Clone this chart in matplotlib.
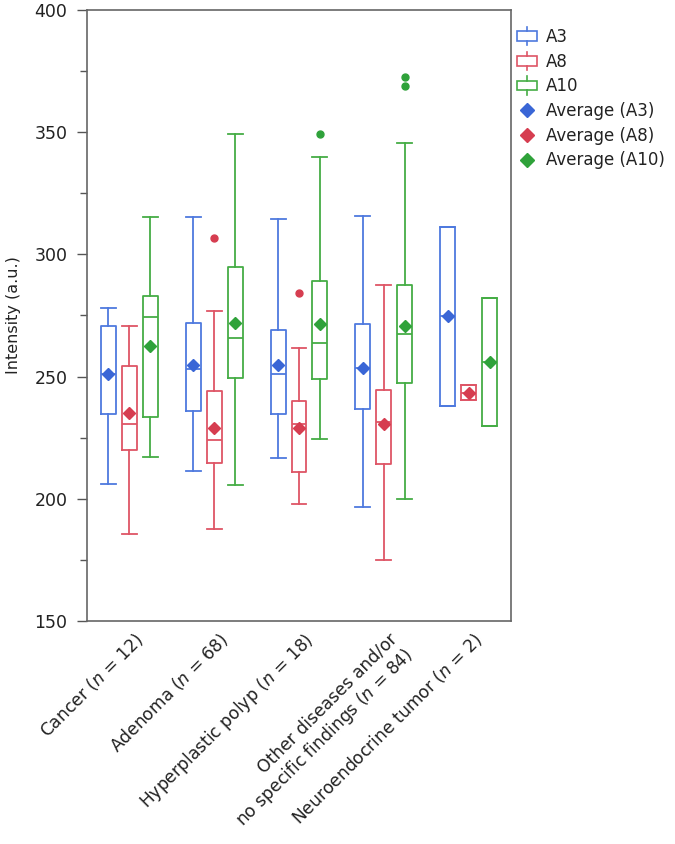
import matplotlib
matplotlib.use("Agg")
import matplotlib.pyplot as plt
import matplotlib.transforms as mtransforms
from matplotlib.legend_handler import HandlerBase
from matplotlib.lines import Line2D
from matplotlib.patches import Rectangle
from matplotlib.ticker import MultipleLocator

plt.rcParams['font.family'] = ['DejaVu Sans']
plt.rcParams['mathtext.fontset'] = 'dejavusans'

categories = ["Cancer ($\\mathit{n}$ = 12)",
              "Adenoma ($\\mathit{n}$ = 68)",
              "Hyperplastic polyp ($\\mathit{n}$ = 18)",
              "Other diseases and/or\nno specific findings ($\\mathit{n}$ = 84)",
              "Neuroendocrine tumor ($\\mathit{n}$ = 2)"]
series_names = ["A3", "A8", "A10"]

# per-series statistics, one value per category
A3_whislo = [206.2, 211.4, 216.5, 196.8, 238.0]
A3_q1     = [234.8, 235.9, 234.6, 236.9, 238.0]
A3_med    = [250.9, 253.2, 251.2, 253.6, 274.7]
A3_q3     = [270.9, 272.0, 269.2, 271.6, 311.4]
A3_whishi = [277.9, 315.4, 314.5, 315.6, 311.4]
A3_mean   = [251.0, 254.7, 254.6, 253.6, 274.7]
A3_fliers = [[], [], [], [], []]

A8_whislo = [185.8, 187.7, 197.8, 174.8, 240.3]
A8_q1     = [220.1, 214.8, 211.0, 214.1, 240.3]
A8_med    = [230.7, 223.9, 230.5, 231.4, 243.4]
A8_q3     = [254.4, 244.2, 240.0, 244.4, 246.4]
A8_whishi = [270.6, 276.8, 261.8, 287.5, 246.4]
A8_mean   = [235.2, 228.8, 229.1, 230.5, 243.4]
A8_fliers = [[], [306.9], [284.3], [], []]

A10_whislo = [217.1, 205.6, 224.3, 200.0, 229.8]
A10_q1     = [233.5, 249.4, 249.1, 247.3, 229.8]
A10_med    = [274.3, 265.9, 263.7, 267.5, 256.0]
A10_q3     = [282.8, 295.0, 289.2, 287.5, 282.1]
A10_whishi = [315.4, 349.2, 339.7, 345.4, 282.1]
A10_mean   = [262.7, 272.0, 271.6, 270.9, 256.0]
A10_fliers = [[], [], [349.2], [372.6, 368.7], []]

box_colors = ["#4E79DE", "#DE5566", "#45AD45"]
mean_colors = ["#3A66D6", "#D63D50", "#2FA23A"]

series = [
    (A3_whislo, A3_q1, A3_med, A3_q3, A3_whishi, A3_mean, A3_fliers),
    (A8_whislo, A8_q1, A8_med, A8_q3, A8_whishi, A8_mean, A8_fliers),
    (A10_whislo, A10_q1, A10_med, A10_q3, A10_whishi, A10_mean, A10_fliers),
]

fig = plt.figure(figsize=(6.75, 8.44), dpi=100)
ax = fig.add_axes([87/675, 1-621/844, (511-87)/675, (621-10)/844])

offsets = [-0.247, 0.0, 0.247]
width = 0.176
for s, (wlo, q1, med, q3, whi, mean, fl) in enumerate(series):
    stats = []
    for i in range(len(categories)):
        stats.append(dict(whislo=wlo[i], q1=q1[i], med=med[i], q3=q3[i],
                          whishi=whi[i], mean=mean[i], fliers=fl[i]))
    c = box_colors[s]
    pos = [i + offsets[s] for i in range(len(categories))]
    ax.bxp(stats, positions=pos, widths=width, capwidths=width,
           showmeans=True, manage_ticks=False,
           boxprops=dict(color=c, linewidth=1.3),
           whiskerprops=dict(color=c, linewidth=1.3),
           capprops=dict(color=c, linewidth=1.3),
           medianprops=dict(color=c, linewidth=1.3),
           meanprops=dict(marker='D', markerfacecolor=mean_colors[s],
                          markeredgecolor=mean_colors[s], markersize=6.5),
           flierprops=dict(marker='o', markerfacecolor=mean_colors[s],
                           markeredgecolor=mean_colors[s], markersize=5))

ax.set_xlim(-0.5, len(categories) - 0.5)
ax.set_ylim(150, 400)
ax.yaxis.set_major_locator(MultipleLocator(50))
ax.yaxis.set_minor_locator(MultipleLocator(25))
ax.tick_params(axis='y', which='major', length=7, width=1, color='#555555',
               labelsize=12.5, pad=7, labelcolor='#222222')
ax.tick_params(axis='y', which='minor', length=5, width=1, color='#555555')
ax.set_xticks(range(len(categories)))
ax.set_xticklabels(categories, rotation=45, ha='right', rotation_mode='anchor',
                   fontsize=12.3, color='#222222')
ax.tick_params(axis='x', length=0, pad=4)
shift = mtransforms.ScaledTranslation(0.04, -0.03, fig.dpi_scale_trans)
for lab in ax.get_xticklabels():
    lab.set_transform(lab.get_transform() + shift)
for sp in ax.spines.values():
    sp.set_color('#666666')
    sp.set_linewidth(1.2)
ax.set_ylabel("Intensity (a.u.)", fontsize=11.5, color='#222222', labelpad=10)


class BoxHandler(HandlerBase):
    def __init__(self, color):
        super().__init__()
        self.color = color

    def create_artists(self, legend, orig_handle, xdescent, ydescent, width,
                       height, fontsize, trans):
        cx = width / 2 - xdescent
        cy = height / 2 - ydescent
        w = 14
        h = 7
        r = Rectangle((cx - w / 2, cy - h / 2), w, h, facecolor='none',
                      edgecolor=self.color, linewidth=1.2, transform=trans)
        l1 = Line2D([cx, cx], [cy + h / 2, cy + h / 2 + 3], color=self.color,
                    linewidth=1.2, transform=trans)
        l2 = Line2D([cx, cx], [cy - h / 2, cy - h / 2 - 3], color=self.color,
                    linewidth=1.2, transform=trans)
        return [r, l1, l2]


box_handles = [Rectangle((0, 0), 1, 1) for _ in series_names]
mean_handles = [Line2D([], [], linestyle='none', marker='D', markersize=7,
                       markerfacecolor=mean_colors[i], markeredgecolor=mean_colors[i])
                for i in range(3)]
handles = box_handles + mean_handles
labels = series_names + ["Average (%s)" % n for n in series_names]
handler_map = {box_handles[i]: BoxHandler(box_colors[i]) for i in range(3)}
leg = fig.legend(handles, labels, handler_map=handler_map,
                 loc='upper left', bbox_to_anchor=(516/675, 1 - 28/844),
                 frameon=False, fontsize=12.0, handlelength=1.3,
                 handletextpad=0.5, labelspacing=0.4, borderaxespad=0,
                 borderpad=0)
for t in leg.get_texts():
    t.set_color('#222222')

fig.savefig("out.png", dpi=100)
